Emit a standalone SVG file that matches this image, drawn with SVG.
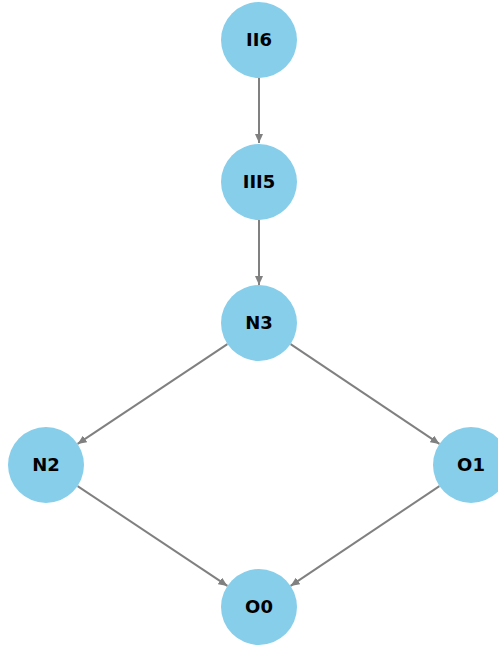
<svg xmlns="http://www.w3.org/2000/svg" width="498" height="647" viewBox="0 0 498 647">
<style>
.node circle{fill:#87ceeb;}
.node text{font-family:"DejaVu Sans",sans-serif;font-weight:bold;font-size:18px;fill:#000;text-anchor:middle;dominant-baseline:central;}
.edges line{stroke:#808080;stroke-width:2;}
</style>
<defs>
<marker id="ah" markerUnits="userSpaceOnUse" markerWidth="10" markerHeight="8" refX="9" refY="4" orient="auto">
<path d="M0,0 L9,4 L0,8 Z" fill="#808080"/>
</marker>
</defs>
<rect width="498" height="647" fill="#fff"/>
<g class="edges">
<line x1="259" y1="78" x2="259" y2="143" marker-end="url(#ah)"/>
<line x1="259" y1="220" x2="259" y2="285" marker-end="url(#ah)"/>
<line x1="227.4" y1="344.1" x2="77.6" y2="443.9" marker-end="url(#ah)"/>
<line x1="290.6" y1="344.1" x2="439.4" y2="443.9" marker-end="url(#ah)"/>
<line x1="77.6" y1="486.1" x2="227.4" y2="585.9" marker-end="url(#ah)"/>
<line x1="439.4" y1="486.1" x2="290.6" y2="585.9" marker-end="url(#ah)"/>
</g>
<g id="II6" class="node"><circle cx="259" cy="40" r="38"/><text x="259" y="39">II6</text></g>
<g id="III5" class="node"><circle cx="259" cy="182" r="38"/><text x="259" y="181">III5</text></g>
<g id="N3" class="node"><circle cx="259" cy="323" r="38"/><text x="259" y="322">N3</text></g>
<g id="N2" class="node"><circle cx="46" cy="465" r="38"/><text x="46" y="464">N2</text></g>
<g id="O1" class="node"><circle cx="471" cy="465" r="38"/><text x="471" y="464">O1</text></g>
<g id="O0" class="node"><circle cx="259" cy="607" r="38"/><text x="259" y="606">O0</text></g>
</svg>
